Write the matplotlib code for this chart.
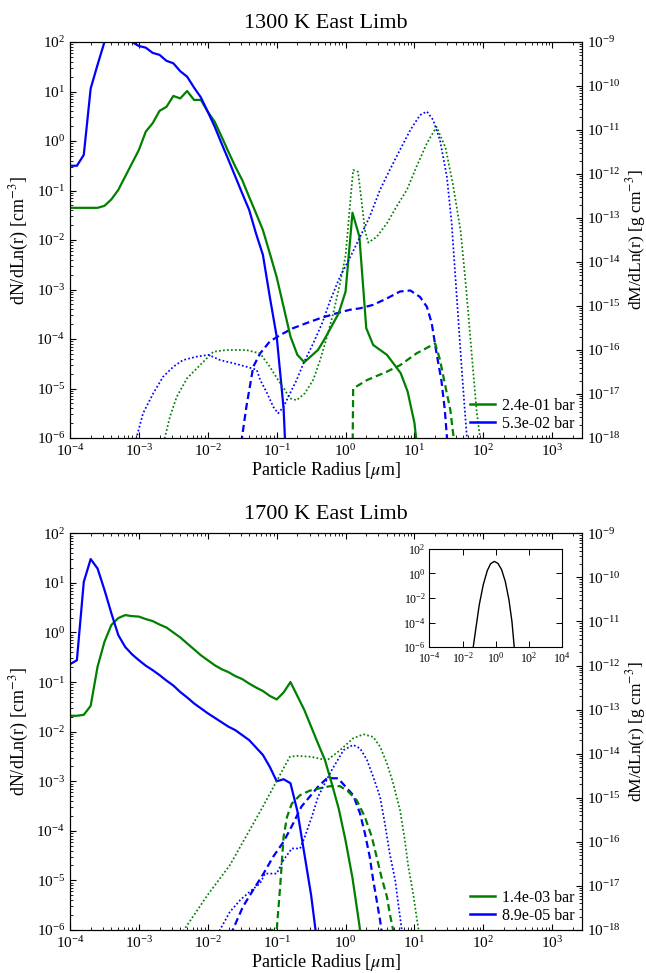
import numpy as np
import matplotlib
matplotlib.use('Agg')
import matplotlib.pyplot as plt
from matplotlib.lines import Line2D
from matplotlib.ticker import NullLocator

plt.rcParams['font.family'] = ['Liberation Serif', 'DejaVu Serif']
plt.rcParams['mathtext.fontset'] = 'stix'
plt.rcParams['font.size'] = 12

GREEN = '#008000'
BLUE = '#0000ff'

# ---------------- 1300 K East Limb (log10 radius [um], log10 value) ----------------
g_solid_1300_logr = [-4.0, -3.6, -3.5, -3.4, -3.3, -3.2, -3.1, -3.0, -2.9, -2.8, -2.7, -2.6, -2.5,
                     -2.4, -2.3, -2.2, -2.1, -2.0, -1.9, -1.8, -1.7, -1.6, -1.5, -1.4, -1.3, -1.2,
                     -1.1, -1.0, -0.9, -0.8, -0.7, -0.6, -0.4, -0.3, -0.1, 0.0, 0.1, 0.2, 0.3, 0.4,
                     0.6, 0.8, 0.9, 1.0, 1.1]
g_solid_1300_logn = [-1.35, -1.35, -1.31, -1.18, -0.99, -0.72, -0.45, -0.18, 0.19, 0.36, 0.61, 0.69,
                     0.91, 0.86, 1.01, 0.83, 0.83, 0.59, 0.39, 0.09, -0.22, -0.52, -0.79, -1.13,
                     -1.46, -1.80, -2.27, -2.75, -3.35, -3.95, -4.32, -4.47, -4.22, -3.99, -3.48,
                     -3.04, -1.45, -1.93, -3.78, -4.12, -4.32, -4.69, -5.06, -5.70, -7.0]

b_solid_1300_logr = [-4.0, -3.9, -3.8, -3.7, -3.6, -3.5, -3.4, -3.3, -3.2, -3.1, -3.0, -2.9, -2.8,
                     -2.7, -2.6, -2.5, -2.4, -2.3, -2.2, -2.1, -2.0, -1.9, -1.8, -1.7, -1.6, -1.5,
                     -1.4, -1.3, -1.2, -1.1, -1.0, -0.9, -0.8]
b_solid_1300_logn = [-0.50, -0.50, -0.28, 1.06, 1.54, 2.00, 2.08, 2.12, 2.10, 2.00, 1.92, 1.885,
                     1.78, 1.74, 1.62, 1.57, 1.41, 1.30, 1.08, 0.88, 0.59, 0.29, -0.05, -0.38,
                     -0.72, -1.06, -1.39, -1.87, -2.30, -3.15, -3.95, -5.40, -8.5]

b_dash_1300_logr = [-1.515, -1.44, -1.34, -1.24, -1.10, -0.95, -0.76, -0.57, -0.37, -0.13, 0.06,
                    0.21, 0.40, 0.60, 0.79, 0.94, 1.08, 1.18, 1.25, 1.32, 1.39, 1.44, 1.47, 1.50]
b_dash_1300_logn = [-6.1, -5.37, -4.56, -4.29, -4.05, -3.92, -3.78, -3.68, -3.58, -3.48, -3.41,
                    -3.38, -3.31, -3.18, -3.04, -3.02, -3.15, -3.35, -3.68, -4.29, -4.83, -5.43,
                    -5.97, -6.5]

g_dash_1300_logr = [0.10, 0.11, 0.31, 0.60, 0.79, 1.03, 1.30, 1.37, 1.44, 1.52, 1.56, 1.60]
g_dash_1300_logn = [-6.5, -5.0, -4.83, -4.66, -4.53, -4.29, -4.09, -4.42, -4.90, -5.43, -5.90, -6.3]

g_dot_1300_logr = [-2.64, -2.55, -2.45, -2.30, -2.11, -1.92, -1.73, -1.44, -1.24, -1.10, -0.98,
                   -0.88, -0.81, -0.71, -0.59, -0.47, -0.37, -0.27, -0.18, -0.08, 0.0, 0.07, 0.11,
                   0.18, 0.23, 0.28, 0.33, 0.45, 0.60, 0.74, 0.89, 1.03, 1.18, 1.32, 1.45, 1.56,
                   1.67, 1.75, 1.85, 1.90, 1.95, 1.99]
g_dot_1300_logm = [-18.1, -17.52, -17.06, -16.64, -16.34, -16.04, -16.0, -16.0, -16.08, -16.38,
                   -16.68, -16.91, -17.1, -17.14, -16.98, -16.68, -16.23, -15.70, -15.17, -14.48,
                   -13.85, -12.59, -11.91, -11.95, -12.59, -13.27, -13.56, -13.43, -13.12, -12.74,
                   -12.36, -11.83, -11.30, -10.93, -11.40, -12.25, -13.3, -14.6, -16.45, -17.36,
                   -17.97, -18.5]

b_dot_1300_logr = [-3.07, -2.94, -2.79, -2.65, -2.50, -2.36, -2.16, -1.99, -1.82, -1.63, -1.44,
                   -1.29, -1.24, -1.14, -1.05, -0.98, -0.90, -0.83, -0.71, -0.61, -0.47, -0.34,
                   -0.22, -0.08, 0.07, 0.21, 0.35, 0.50, 0.64, 0.79, 0.94, 1.08, 1.18, 1.27, 1.37,
                   1.47, 1.54, 1.59, 1.64, 1.69, 1.73, 1.76, 1.79]
b_dot_1300_logm = [-18.2, -17.44, -16.98, -16.61, -16.38, -16.23, -16.15, -16.11, -16.23, -16.30,
                   -16.38, -16.45, -16.68, -16.98, -17.29, -17.44, -17.29, -17.06, -16.68, -16.30,
                   -15.85, -15.39, -14.86, -14.33, -13.88, -13.43, -12.97, -12.36, -11.91, -11.45,
                   -11.0, -10.66, -10.58, -10.77, -11.23, -12.06, -13.12, -14.26, -15.39, -16.53,
                   -17.36, -17.97, -18.6]

# ---------------- 1700 K East Limb ----------------
b_solid_1700_logr = [-4.0, -3.9, -3.8, -3.7, -3.6, -3.5, -3.4, -3.3, -3.2, -3.1, -3.0, -2.9, -2.8,
                     -2.7, -2.6, -2.5, -2.4, -2.3, -2.2, -2.1, -2.0, -1.9, -1.8, -1.7, -1.6, -1.5,
                     -1.4, -1.3, -1.2, -1.1, -1.0, -0.9, -0.8, -0.7, -0.6, -0.5, -0.4]
b_solid_1700_logn = [-0.64, -0.56, 1.02, 1.48, 1.29, 0.86, 0.39, -0.05, -0.29, -0.44, -0.56, -0.67,
                     -0.76, -0.86, -0.97, -1.07, -1.20, -1.31, -1.43, -1.53, -1.63, -1.72, -1.81,
                     -1.90, -1.97, -2.07, -2.17, -2.32, -2.47, -2.71, -3.00, -2.96, -3.04, -3.60,
                     -4.45, -5.30, -6.40]

g_solid_1700_logr = [-4.0, -3.9, -3.8, -3.7, -3.6, -3.5, -3.4, -3.3, -3.2, -3.1, -3.0, -2.9, -2.8,
                     -2.7, -2.6, -2.5, -2.4, -2.3, -2.2, -2.1, -2.0, -1.9, -1.8, -1.7, -1.6, -1.5,
                     -1.4, -1.3, -1.2, -1.1, -1.0, -0.9, -0.8, -0.7, -0.6, -0.5, -0.4, -0.3, -0.2,
                     -0.1, 0.0, 0.1, 0.2, 0.3]
g_solid_1700_logn = [-1.68, -1.68, -1.66, -1.48, -0.69, -0.19, 0.15, 0.29, 0.35, 0.33, 0.32, 0.27,
                     0.23, 0.16, 0.10, 0.0, -0.10, -0.22, -0.34, -0.46, -0.56, -0.66, -0.74, -0.80,
                     -0.88, -0.94, -1.03, -1.11, -1.18, -1.28, -1.35, -1.21, -1.00, -1.28, -1.56,
                     -1.90, -2.24, -2.57, -3.05, -3.55, -4.20, -4.95, -5.90, -7.0]

b_dash_1700_logr = [-1.67, -1.49, -1.34, -1.19, -1.05, -0.90, -0.76, -0.64, -0.52, -0.40, -0.27,
                    -0.11, 0.0, 0.11, 0.21, 0.28, 0.35, 0.40, 0.45, 0.50, 0.55]
b_dash_1700_logn = [-6.1, -5.53, -5.19, -4.86, -4.52, -4.22, -3.85, -3.51, -3.31, -3.11, -2.94,
                    -2.94, -3.11, -3.28, -3.65, -4.05, -4.52, -4.99, -5.39, -5.80, -6.3]

g_dash_1700_logr = [-1.15, -1.00, -0.95, -0.90, -0.85, -0.78, -0.66, -0.52, -0.37, -0.23, -0.08,
                    0.04, 0.16, 0.28, 0.38, 0.45, 0.52, 0.60, 0.64, 0.69, 0.73]
g_dash_1700_logn = [-6.0, -6.0, -5.13, -4.12, -3.72, -3.45, -3.28, -3.19, -3.14, -3.10, -3.10,
                    -3.21, -3.38, -3.72, -4.12, -4.52, -4.93, -5.33, -5.66, -6.0, -6.3]

g_dot_1700_logr = [-2.39, -2.0, -1.68, -1.2, -0.81, -0.70, -0.50, -0.27, -0.08, 0.11, 0.26, 0.40,
                   0.50, 0.60, 0.69, 0.79, 0.86, 0.91, 0.98, 1.03, 1.06, 1.10]
g_dot_1700_logm = [-18.1, -17.2, -16.53, -15.2, -14.07, -14.05, -14.07, -14.15, -13.92, -13.65,
                   -13.56, -13.62, -13.84, -14.22, -14.67, -15.28, -15.96, -16.56, -17.17, -17.70,
                   -18.0, -18.5]

b_dot_1700_logr = [-1.86, -1.68, -1.53, -1.39, -1.24, -1.17, -1.00, -0.90, -0.78, -0.66, -0.59,
                   -0.49, -0.40, -0.30, -0.20, -0.03, 0.11, 0.21, 0.31, 0.40, 0.50, 0.57, 0.64,
                   0.72, 0.77, 0.81, 0.84]
b_dot_1700_logm = [-18.1, -17.59, -17.32, -17.13, -16.94, -16.72, -16.72, -16.41, -16.15, -16.15,
                   -15.88, -15.43, -14.98, -14.67, -14.37, -13.92, -13.80, -13.88, -14.14, -14.52,
                   -14.98, -15.58, -16.26, -16.87, -17.47, -17.93, -18.4]

# inset distribution
inset_logr = [-1.40, -1.36, -1.195, -0.994, -0.754, -0.513, -0.313, -0.092, 0.128, 0.349, 0.569,
              0.790, 0.970, 1.11, 1.15]
inset_logn = [-6.6, -6.0, -4.43, -2.54, -0.92, 0.22, 0.78, 0.97, 0.81, 0.30, -0.65, -2.14, -3.89,
              -6.0, -6.6]

titles = ['1300 K East Limb', '1700 K East Limb']
legend_1300 = ['2.4e-01 bar', '5.3e-02 bar']
legend_1700 = ['1.4e-03 bar', '8.9e-05 bar']

W, H = 646, 973
fig = plt.figure(figsize=(W / 100, H / 100), dpi=100)


def p(a):
    return 10.0 ** np.asarray(a)


def setup(ax, axr):
    ax.set_xscale('log')
    ax.set_yscale('log')
    ax.set_xlim(1e-4, 2.7e3)
    ax.set_ylim(1e-6, 1e2)
    axr.set_yscale('log')
    axr.set_ylim(1e-18, 1e-9)
    for a in (ax, axr):
        a.tick_params(which='both', direction='in', labelsize=11)
        a.tick_params(which='major', length=4.5, width=0.8)
        a.tick_params(which='minor', length=2.2, width=0.6)
    ax.tick_params(which='both', top=True)
    ax.set_xlabel(r'Particle Radius [$\mu$m]', fontsize=13, labelpad=1)
    ax.set_ylabel(r'dN/dLn(r) [cm$^{-3}$]', fontsize=13, labelpad=4)
    axr.set_ylabel(r'dM/dLn(r) [g cm$^{-3}$]', fontsize=12.5, labelpad=2.5)


def panel(rect, title, solids, dashes, dots, labels):
    ax = fig.add_axes(rect)
    axr = ax.twinx()
    setup(ax, axr)
    for lr, lv, c in dashes:
        ax.plot(p(lr), p(lv), color=c, lw=1.6, dashes=(3.2, 1.8))
    for lr, lv, c in solids:
        ax.plot(p(lr), p(lv), color=c, lw=1.6)
    for lr, lv, c in dots:
        axr.plot(p(lr), p(lv), color=c, lw=1.25, linestyle=(0, (1, 1.3)))
    ax.set_title(title, fontsize=16, pad=10)
    handles = [Line2D([], [], color=GREEN, lw=1.8), Line2D([], [], color=BLUE, lw=1.8)]
    axr.legend(handles, labels, loc='lower right', bbox_to_anchor=(0.985, 0.015),
               frameon=False, fontsize=11.5, handlelength=1.6, handletextpad=0.4,
               labelspacing=0.15, borderpad=0.0, borderaxespad=0.0)
    return ax, axr


panel([70 / W, 1 - 438 / H, 512 / W, 396 / H], titles[0],
      [(g_solid_1300_logr, g_solid_1300_logn, GREEN), (b_solid_1300_logr, b_solid_1300_logn, BLUE)],
      [(b_dash_1300_logr, b_dash_1300_logn, BLUE), (g_dash_1300_logr, g_dash_1300_logn, GREEN)],
      [(g_dot_1300_logr, g_dot_1300_logm, GREEN), (b_dot_1300_logr, b_dot_1300_logm, BLUE)],
      legend_1300)

panel([70 / W, 1 - 930 / H, 512 / W, 396.7 / H], titles[1],
      [(g_solid_1700_logr, g_solid_1700_logn, GREEN), (b_solid_1700_logr, b_solid_1700_logn, BLUE)],
      [(b_dash_1700_logr, b_dash_1700_logn, BLUE), (g_dash_1700_logr, g_dash_1700_logn, GREEN)],
      [(g_dot_1700_logr, g_dot_1700_logm, GREEN), (b_dot_1700_logr, b_dot_1700_logm, BLUE)],
      legend_1700)

# inset
axi = fig.add_axes([429.3 / W, 1 - 647.3 / H, 133 / W, 98.6 / H])
axi.set_xscale('log')
axi.set_yscale('log')
axi.set_xlim(1e-4, 1e4)
axi.set_ylim(1e-6, 1e2)
axi.plot(p(inset_logr), p(inset_logn), color='black', lw=1.0)
axi.set_xticks([1e-4, 1e-2, 1e0, 1e2, 1e4])
axi.set_yticks([1e-6, 1e-4, 1e-2, 1e0, 1e2])
axi.xaxis.set_minor_locator(NullLocator())
axi.yaxis.set_minor_locator(NullLocator())
axi.tick_params(which='both', direction='in', top=True, right=True, labelsize=8.5,
                length=4, width=0.7, pad=2.5)

fig.savefig('out.png', dpi=100)
